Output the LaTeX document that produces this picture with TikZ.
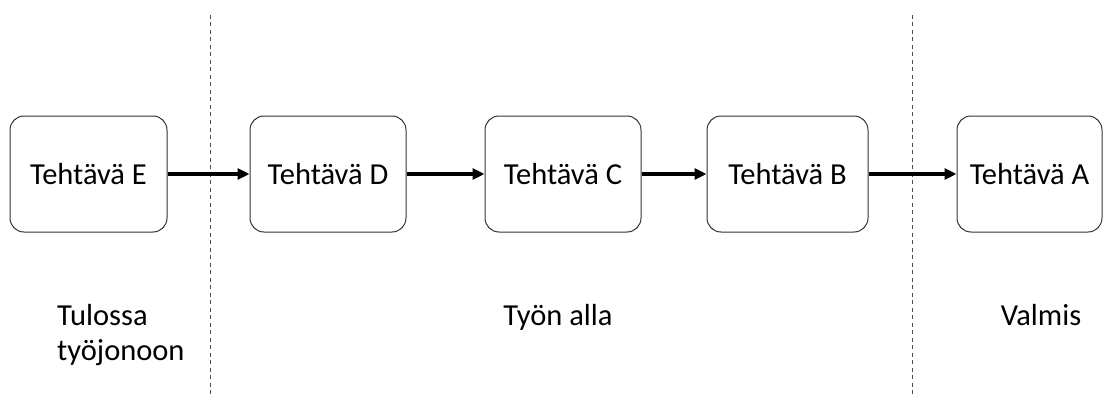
\documentclass[tikz,border=0pt]{standalone}
\usepackage{fontspec}
\setmainfont{Carlito}
\usetikzlibrary{arrows.meta}
\tikzset{
  task/.style={draw=black!80, line width=1pt, rounded corners=14pt,
    minimum height=116pt, inner sep=0pt, font=\fontsize{30.5}{36}\selectfont},
  flow/.style={line width=3.2pt, -{Triangle[length=12pt,width=11pt]}},
  divider/.style={line width=1pt, draw=black!70, dash pattern=on 4pt off 3.5pt},
  phase/.style={inner sep=0pt, font=\fontsize{30.5}{35}\selectfont}
}
\begin{document}
\begin{tikzpicture}[x=1pt,y=-1pt]
  \useasboundingbox (0,0) rectangle (1104,396);
  % phase dividers
  \coordinate (d1top) at (210,15);
  \coordinate (d1bot) at (210,396);
  \coordinate (d2top) at (912,15);
  \coordinate (d2bot) at (912,396);
  \draw[divider] (d1top) -- (d1bot);
  \draw[divider] (d2top) -- (d2bot);
  % tasks
  \node[task, minimum width=157pt] (E) at (88.5,174) {Tehtävä E};
  \node[task, minimum width=156pt] (D) at (328,174) {Tehtävä D};
  \node[task, minimum width=156pt] (C) at (563,174) {Tehtävä C};
  \node[task, minimum width=161pt] (B) at (787.5,174) {Tehtävä B};
  \node[task, minimum width=145pt] (A) at (1029.5,174) {Tehtävä A};
  % flow between tasks
  \draw[flow] (E) -- (D);
  \draw[flow] (D) -- (C);
  \draw[flow] (C) -- (B);
  \draw[flow] (B) -- (A);
  % phase labels
  \node[phase, anchor=base west, align=left] (upcoming) at (57,360) {Tulossa\\työjonoon};
  \node[phase, anchor=base] (ongoing) at (558,325) {Työn alla};
  \node[phase, anchor=base] (done) at (1041,325) {Valmis};
\end{tikzpicture}
\end{document}
